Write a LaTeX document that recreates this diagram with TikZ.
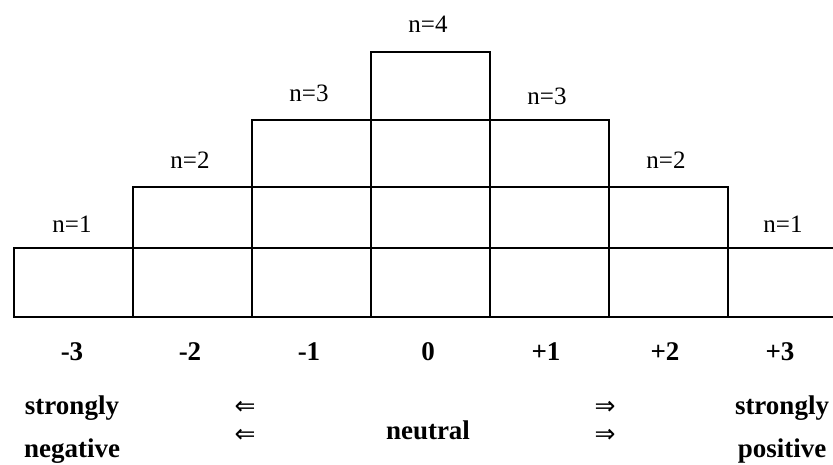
\documentclass[tikz,border=0pt]{standalone}
\usepackage{fontspec}
\setmainfont{Liberation Serif}
\newfontfamily\djv{DejaVu Sans}
\begin{document}
\begin{tikzpicture}[x=1pt,y=1pt,
  cell/.style={draw, line width=1.8pt, inner sep=0pt, anchor=south west, minimum width=119pt},
  r1/.style={cell, minimum height=69pt},
  r2/.style={cell, minimum height=61pt},
  r3/.style={cell, minimum height=67pt},
  r4/.style={cell, minimum height=68pt},
  nlab/.style={font=\fontsize{25}{30}\selectfont},
  blab/.style={font=\fontsize{27}{32}\selectfont\bfseries},
  arr/.style={font=\djv\fontsize{25}{30}\selectfont}]
\useasboundingbox (0,0) rectangle (833,465);
\clip (0,0) rectangle (833,465);
% row 1
\node[r1] (c01) at (13,147) {};
\node[r1] (c11) at (132,147) {};
\node[r1] (c21) at (251,147) {};
\node[r1] (c31) at (370,147) {};
\node[r1] (c41) at (489,147) {};
\node[r1] (c51) at (608,147) {};
\node[r1] (c61) at (727,147) {};
% row 2
\node[r2] (c12) at (132,216) {};
\node[r2] (c22) at (251,216) {};
\node[r2] (c32) at (370,216) {};
\node[r2] (c42) at (489,216) {};
\node[r2] (c52) at (608,216) {};
% row 3
\node[r3] (c23) at (251,277) {};
\node[r3] (c33) at (370,277) {};
\node[r3] (c43) at (489,277) {};
% row 4
\node[r4] (c34) at (370,344) {};
% n labels
\node[nlab] (l0) at (72,241) {n=1};
\node[nlab] (l1) at (190,305) {n=2};
\node[nlab] (l2) at (309,372) {n=3};
\node[nlab] (l3) at (428,441) {n=4};
\node[nlab] (l4) at (547,369) {n=3};
\node[nlab] (l5) at (666,305) {n=2};
\node[nlab] (l6) at (783,241) {n=1};
% scale values
\node[blab] (v0) at (72,113) {-3};
\node[blab] (v1) at (190,113) {-2};
\node[blab] (v2) at (309,113) {-1};
\node[blab] (v3) at (428,113) {0};
\node[blab] (v4) at (546,113) {+1};
\node[blab] (v5) at (665,113) {+2};
\node[blab] (v6) at (780,113) {+3};
% words
\node[blab] (sn) at (72,57) {strongly};
\node[blab] (ng) at (72,14) {negative};
\node[blab] (nt) at (428,35) {neutral};
\node[blab] (sp) at (782,57) {strongly};
\node[blab] (ps) at (782,14) {positive};
\node[arr] (al1) at (245,57) {⇐};
\node[arr] (al2) at (245,29) {⇐};
\node[arr] (ar1) at (605,57) {⇒};
\node[arr] (ar2) at (605,29) {⇒};
\end{tikzpicture}
\end{document}
